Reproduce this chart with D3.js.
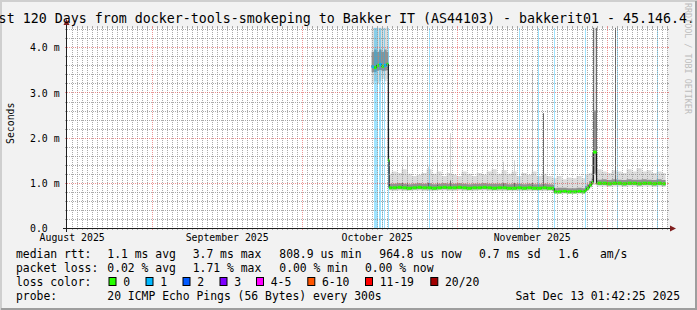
<!DOCTYPE html>
<html><head><meta charset="utf-8">
<script src="https://cdn.jsdelivr.net/npm/d3@7"></script>
<style>
html,body{margin:0;padding:0;background:#f2f2f2;}
svg{display:block;}
text{font-family:"DejaVu Sans Mono",monospace;fill:#000;}
</style></head><body>
<svg id="c" width="697" height="310"></svg>
<script>
// ---------------- data ----------------
const titleText = "Last 120 Days from docker-tools-smokeping to Bakker IT (AS44103) - bakkerit01 - 45.146.4.";
const endStamp = "2025-12-13T01:42:25";
const rangeDays = 120;
const yMaxMs = 4.427;
const yTickValues = [0, 1, 2, 3, 4];
const yTickLabels = ["0.0", "1.0 m", "2.0 m", "3.0 m", "4.0 m"];
const monthLabels = ["August 2025", "September 2025", "October 2025", "November 2025"];

const times = ["2025-10-15T00:00","2025-10-15T12:00","2025-10-16T00:00","2025-10-16T12:00","2025-10-17T00:00","2025-10-17T12:00","2025-10-18T00:00","2025-10-18T08:00","2025-10-18T12:00",
"2025-10-19T00:00","2025-10-20T00:00","2025-10-21T00:00","2025-10-22T00:00","2025-10-23T00:00","2025-10-24T00:00","2025-10-25T00:00","2025-10-26T00:00","2025-10-27T00:00","2025-10-28T00:00","2025-10-29T00:00","2025-10-30T00:00","2025-10-31T00:00",
"2025-11-01T00:00","2025-11-02T00:00","2025-11-03T00:00","2025-11-04T00:00","2025-11-05T00:00","2025-11-06T00:00","2025-11-07T00:00","2025-11-08T00:00","2025-11-09T00:00","2025-11-10T00:00","2025-11-11T00:00","2025-11-12T00:00","2025-11-13T00:00","2025-11-14T00:00","2025-11-15T00:00","2025-11-16T00:00","2025-11-17T00:00","2025-11-18T00:00","2025-11-19T00:00","2025-11-20T00:00",
"2025-11-20T12:00","2025-11-21T00:00","2025-11-22T00:00","2025-11-23T00:00","2025-11-24T00:00","2025-11-25T00:00","2025-11-26T00:00","2025-11-26T16:00","2025-11-27T00:00","2025-11-27T12:00","2025-11-28T00:00","2025-11-28T07:00",
"2025-11-29T00:00","2025-11-30T00:00","2025-12-01T00:00","2025-12-02T00:00","2025-12-03T00:00","2025-12-04T00:00","2025-12-05T00:00","2025-12-06T00:00","2025-12-07T00:00","2025-12-08T00:00","2025-12-09T00:00","2025-12-10T00:00","2025-12-11T00:00","2025-12-12T00:00"];
const dataEnd = "2025-12-12T19:00";
// median rtt in ms
const medianMs = [3.57,3.55,3.60,3.62,3.58,3.60,3.63,1.50,0.89,
0.89,0.90,0.89,0.88,0.89,0.90,0.89,0.89,0.88,0.89,0.90,0.89,0.89,
0.90,0.89,0.88,0.89,0.89,0.90,0.89,0.88,0.89,0.89,0.88,0.88,0.89,0.88,0.89,0.88,0.88,0.89,0.88,0.88,
0.80,0.80,0.81,0.80,0.80,0.81,0.80,0.84,0.88,0.95,1.01,1.68,
0.99,0.99,0.98,0.99,0.99,0.98,0.99,0.99,0.98,0.99,0.99,0.98,0.99,0.98];
// lost pings (out of 20) per bin
const lossCount = [1,0,0,1,0,1,0,0,0,
0,0,0,0,0,0,0,0,0,0,0,0,0,
0,0,0,0,0,0,0,0,0,0,0,0,0,0,0,0,0,0,0,0,
0,0,0,0,0,0,0,0,0,0,0,0,
0,0,0,0,0,0,0,0,0,0,0,0,0,0];
const smokeMin = [3.20,3.25,3.20,3.25,3.30,3.25,3.30,0.90,0.83,
0.82,0.83,0.82,0.82,0.83,0.83,0.82,0.82,0.82,0.83,0.83,0.82,0.82,
0.83,0.82,0.82,0.82,0.83,0.83,0.82,0.82,0.82,0.82,0.82,0.82,0.82,0.82,0.82,0.82,0.82,0.82,0.82,0.82,
0.75,0.75,0.76,0.75,0.75,0.76,0.75,0.78,0.82,0.88,0.94,0.95,
0.92,0.92,0.91,0.92,0.92,0.91,0.92,0.92,0.91,0.92,0.92,0.91,0.92,0.91];
const smokeQ1 = [3.45,3.45,3.48,3.50,3.47,3.48,3.50,1.20,0.86,
0.86,0.86,0.86,0.85,0.86,0.86,0.86,0.86,0.85,0.86,0.86,0.86,0.86,
0.86,0.86,0.85,0.86,0.86,0.86,0.86,0.85,0.86,0.86,0.85,0.85,0.86,0.85,0.86,0.85,0.85,0.86,0.85,0.85,
0.78,0.78,0.79,0.78,0.78,0.79,0.78,0.81,0.85,0.92,0.97,1.20,
0.95,0.95,0.94,0.95,0.95,0.94,0.95,0.95,0.94,0.95,0.95,0.94,0.95,0.94];
const smokeQ3 = [3.90,3.95,3.90,3.95,3.90,3.95,3.90,2.20,0.98,
0.98,0.99,0.98,0.97,0.98,0.99,0.98,0.99,0.97,0.98,0.99,0.98,0.98,
0.99,0.98,0.97,0.98,0.98,0.99,0.98,0.98,0.98,0.99,0.97,0.98,0.98,0.97,0.98,0.97,0.97,0.98,0.97,0.96,
0.88,0.89,0.89,0.88,0.88,0.89,0.88,0.93,0.97,1.04,1.10,2.60,
1.07,1.08,1.06,1.08,1.07,1.06,1.08,1.07,1.07,1.08,1.07,1.06,1.08,1.06];
const smokeMax = [4.43,4.43,4.43,4.43,4.43,4.43,4.43,3.00,1.20,
1.25,1.22,1.30,1.20,1.15,1.18,1.22,1.30,1.20,1.25,1.15,1.22,1.18,
1.15,1.25,1.20,1.15,1.22,1.18,1.25,1.30,1.20,1.28,1.20,1.25,1.15,1.22,1.18,1.25,1.15,1.20,1.15,1.12,
1.10,1.15,1.08,1.12,1.10,1.15,1.10,1.18,1.20,1.22,1.25,4.43,
1.30,1.25,1.22,1.28,1.25,1.22,1.30,1.25,1.32,1.25,1.28,1.22,1.25,1.22];
// single thin spikes in the smoke
const spikeTimes = ["2025-10-21T00:00","2025-10-22T02:00","2025-10-26T05:00","2025-10-28T00:00","2025-10-30T16:00","2025-11-10T06:30","2025-11-12T13:30","2025-11-16T00:15","2025-11-18T08:00","2025-11-28T06:00","2025-11-28T20:00","2025-12-02T16:00"];
const spikeMax = [1.36,1.58,1.36,1.47,2.10,1.47,1.50,3.50,2.54,4.43,4.43,4.43];
const spikeQ3  = [1.00,1.00,1.00,1.00,1.05,1.00,1.00,1.00,2.54,4.43,4.43,4.43];
// bins with 1/20 loss
const lossOneTimes = ["2025-10-15T12:45","2025-10-15T17:30","2025-10-15T22:20","2025-10-16T03:10","2025-10-16T09:50","2025-10-16T17:30","2025-10-17T03:10","2025-10-17T11:20","2025-10-18T05:00",
"2025-10-26T10:00","2025-11-13T11:00","2025-11-17T05:00","2025-11-20T12:40","2025-11-26T16:00","2025-12-03T03:10","2025-12-11T03:10"];

const lossKeys = ["0","1","2","3","4-5","6-10","11-19","20/20"];
const lossColors = ["#26ff00","#00b8ff","#0059ff","#7e00ff","#ff00ff","#ff5500","#ff0000","#a10000"];

const row1 = ["median rtt:","1.1 ms avg","3.7 ms max","808.9 us min","964.8 us now","0.7 ms sd","1.6","am/s"];
const row2 = ["packet loss:","0.02 % avg","1.71 % max","0.00 % min","0.00 % now"];
const row3Label = "loss color:";
const row4 = ["probe:","20 ICMP Echo Pings (56 Bytes) every 300s","Sat Dec 13 01:42:25 2025"];
const yAxisTitle = "Seconds";
const watermark = "RRDTOOL / TOBI OETIKER";

// ---------------- drawing ----------------
const W = 697, H = 310;
const X0 = 67, X1 = 667, YT = 28, YB = 228;
const svg = d3.select("#c");
const parse = d3.timeParse("%Y-%m-%dT%H:%M");
const endTime = d3.timeParse("%Y-%m-%dT%H:%M:%S")(endStamp);
const startTime = d3.timeDay.offset(endTime, -rangeDays);
const x = d3.scaleTime().domain([startTime, endTime]).range([X0, X1]);
const y = d3.scaleLinear().domain([0, yMaxMs]).range([YB, YT]);

// background & frame
svg.append("rect").attr("width", W).attr("height", H).attr("fill", "#f2f2f2");
svg.append("rect").attr("x",0).attr("y",0).attr("width",W).attr("height",2).attr("fill","#cfcfcf");
svg.append("rect").attr("x",0).attr("y",0).attr("width",2).attr("height",H).attr("fill","#cfcfcf");
svg.append("rect").attr("x",W-2).attr("y",1).attr("width",2).attr("height",H-1).attr("fill","#9e9e9e");
svg.append("rect").attr("x",1).attr("y",H-2).attr("width",W-1).attr("height",2).attr("fill","#9e9e9e");
svg.append("rect").attr("x", X0).attr("y", YT).attr("width", X1 - X0).attr("height", YB - YT).attr("fill", "#fff");

const T = times.map(parse);
const tEnd = parse(dataEnd);
const pts = T.map((t, i) => ({t, t2: i < T.length - 1 ? T[i+1] : tEnd, med: medianMs[i], loss: lossCount[i],
  mn: smokeMin[i], q1: smokeQ1[i], q3: smokeQ3[i], mx: smokeMax[i]}));
const stepPts = pts.concat([{...pts[pts.length-1], t: tEnd}]);

const gData = svg.append("g");
gData.append("path").datum(stepPts)
  .attr("d", d3.area().curve(d3.curveStepAfter).x(d => x(d.t)).y0(d => y(d.mn)).y1(d => y(d.mx)))
  .attr("fill", "#dcdcdc");
gData.append("path").datum(stepPts)
  .attr("d", d3.area().curve(d3.curveStepAfter).x(d => x(d.t)).y0(d => y(d.q1)).y1(d => y(d.q3)))
  .attr("fill", "#929292");

// spikes
const bis = d3.bisector(d => d.t).right;
const medAt = t => pts[Math.max(0, bis(pts, t) - 1)].med;
spikeTimes.forEach((s, i) => {
  const t = parse(s), m = medAt(t);
  gData.append("rect").attr("x", Math.round(x(t))).attr("width", 1)
    .attr("y", y(spikeMax[i])).attr("height", y(m) - y(spikeMax[i])).attr("fill", "#d2d2d2");
  if (spikeQ3[i] > m + 0.1) {
    gData.append("rect").attr("x", Math.round(x(t))).attr("width", 1)
      .attr("y", y(spikeQ3[i])).attr("height", y(m) - y(spikeQ3[i])).attr("fill", "#6a6a6a");
  }
});

// loss background
lossOneTimes.forEach(s => {
  const t = parse(s);
  gData.append("rect").attr("x", Math.round(x(t))).attr("width", 1).attr("y", YT).attr("height", YB - YT)
    .attr("fill", lossColors[1]).attr("fill-opacity", 0.38);
});

// median line
gData.append("path").datum(stepPts)
  .attr("d", d3.line().curve(d3.curveStepAfter).x(d => x(d.t)).y(d => y(d.med)))
  .attr("fill", "none").attr("stroke", "#000").attr("stroke-width", 1);
pts.forEach(d => {
  gData.append("rect").attr("x", x(d.t)).attr("width", Math.max(1, x(d.t2) - x(d.t)))
    .attr("y", y(d.med) - 1.5).attr("height", 3).attr("fill", lossColors[d.loss]);
});

// grid
const gGrid = svg.append("g").attr("shape-rendering", "crispEdges");
const minorCol = "rgba(143,143,143,0.75)", majorCol = "rgba(222,79,79,0.6)";
const minorY = d3.range(1, 23).map(k => k / 5).filter(v => Math.abs(v - Math.round(v)) > 1e-6 && v < yMaxMs);
minorY.forEach(v => {
  const yy = Math.round(y(v)) + 0.5;
  gGrid.append("line").attr("x1", X0).attr("x2", X1).attr("y1", yy).attr("y2", yy).attr("stroke", minorCol).attr("stroke-dasharray", "1,1");
  gGrid.append("line").attr("x1", X0-2).attr("x2", X0).attr("y1", yy).attr("y2", yy).attr("stroke", minorCol);
  gGrid.append("line").attr("x1", X1).attr("x2", X1+2).attr("y1", yy).attr("y2", yy).attr("stroke", minorCol);
});
const days = d3.timeDay.range(startTime, endTime);
const months = d3.timeMonth.range(startTime, endTime);
days.filter(d => d.getDate() !== 1).forEach(d => {
  const xx = Math.round(x(d)) + 0.5;
  gGrid.append("line").attr("x1", xx).attr("x2", xx).attr("y1", YT).attr("y2", YB).attr("stroke", minorCol).attr("stroke-dasharray", "1,1");
  gGrid.append("line").attr("x1", xx).attr("x2", xx).attr("y1", YT-2).attr("y2", YT).attr("stroke", minorCol);
  gGrid.append("line").attr("x1", xx).attr("x2", xx).attr("y1", YB).attr("y2", YB+2).attr("stroke", minorCol);
});
months.forEach(d => {
  const xx = Math.round(x(d)) + 0.5;
  gGrid.append("line").attr("x1", xx).attr("x2", xx).attr("y1", YT).attr("y2", YB).attr("stroke", majorCol).attr("stroke-dasharray", "1,1");
  gGrid.append("line").attr("x1", xx).attr("x2", xx).attr("y1", YT-2).attr("y2", YT).attr("stroke", majorCol);
  gGrid.append("line").attr("x1", xx).attr("x2", xx).attr("y1", YB).attr("y2", YB+2).attr("stroke", majorCol);
});
yTickValues.filter(v => v > 0).forEach(v => {
  const yy = Math.round(y(v)) + 0.5;
  gGrid.append("line").attr("x1", X0).attr("x2", X1).attr("y1", yy).attr("y2", yy).attr("stroke", majorCol).attr("stroke-dasharray", "1,1");
  gGrid.append("line").attr("x1", X0-2).attr("x2", X0).attr("y1", yy).attr("y2", yy).attr("stroke", majorCol);
  gGrid.append("line").attr("x1", X1).attr("x2", X1+2).attr("y1", yy).attr("y2", yy).attr("stroke", majorCol);
});

// axes lines + arrows
const axisCol = "#1f1f1f", arrowCol = "#801f1f";
svg.append("line").attr("x1", X0 - 4).attr("x2", X1 + 4).attr("y1", YB + 0.5).attr("y2", YB + 0.5).attr("stroke", axisCol).attr("shape-rendering","crispEdges");
svg.append("line").attr("x1", X0 - 0.5).attr("x2", X0 - 0.5).attr("y1", YB + 4).attr("y2", YT - 4).attr("stroke", axisCol).attr("shape-rendering","crispEdges");
svg.append("path").attr("d", `M${X1+3},${YB-2.5}L${X1+3},${YB+3.5}L${X1+9},${YB+0.5}Z`).attr("fill", arrowCol);
svg.append("path").attr("d", `M${X0-3.5},${YT-3}L${X0+2.5},${YT-3}L${X0-0.5},${YT-9}Z`).attr("fill", arrowCol);

// axis labels via d3 axes
const labelDates = d3.timeMonth.range(d3.timeMonth.floor(startTime), endTime).map(m => d3.timeDay.offset(m, 15)).filter(d => d >= startTime && d <= endTime);
const gx = svg.append("g").attr("transform", `translate(0,${YB})`)
  .call(d3.axisBottom(x).tickValues(labelDates).tickFormat((d, i) => monthLabels[i]).tickSize(0).tickPadding(0));
gx.select(".domain").remove();
gx.selectAll("text").attr("y", 13).attr("dy", null).attr("font-size", "9.85px").attr("font-family", "DejaVu Sans Mono").attr("fill", "#000");

const gy = svg.append("g").attr("transform", `translate(${X0},0)`)
  .call(d3.axisLeft(y).tickValues(yTickValues).tickFormat((d, i) => yTickLabels[i]).tickSize(0).tickPadding(0));
gy.select(".domain").remove();
gy.selectAll("text").attr("text-anchor", "start").attr("x", 30 - X0).attr("dy", null).attr("y", 3.6)
  .attr("font-size", "9.85px").attr("font-family", "DejaVu Sans Mono").attr("fill", "#000");

svg.append("text").attr("transform", "translate(14,123.3) rotate(-90)").attr("text-anchor", "middle")
  .attr("font-size", "9.85px").text(yAxisTitle);

// title
svg.append("text").attr("x", -17.4).attr("y", 23.2).attr("font-size", "13.3px").attr("xml:space", "preserve").text(titleText);

// watermark
svg.append("text").attr("transform", "translate(685,3) rotate(90)").attr("font-size", "8.4px")
  .style("fill", "#bdbdbd").text(watermark);

// legend
const lf = "11.4px";
const addT = (s, xx, yy) => svg.append("text").attr("x", xx).attr("y", yy).attr("font-size", lf).attr("xml:space", "preserve").text(s);
const r1x = [16, 107.3, 192.7, 279.3, 379.3, 479, 558.3, 600];
row1.forEach((s, i) => addT(s, r1x[i], 257.8));
const r2x = [16, 107.3, 192.7, 279.3, 365];
row2.forEach((s, i) => addT(s, r2x[i], 271.8));
addT(row3Label, 16, 285.8);
const boxX = [108.5, 145.5, 182.5, 219.5, 256, 307.3, 365, 430.3];
lossKeys.forEach((k, i) => {
  svg.append("rect").attr("x", boxX[i] + 0.5).attr("y", 277.5).attr("width", 7).attr("height", 8)
    .attr("fill", lossColors[i]).attr("stroke", "#000").attr("stroke-width", 1);
  addT(k, boxX[i] + 14.7, 285.8);
});
addT(row4[0], 16, 299.8);
addT(row4[1], 107.3, 299.8);
svg.append("text").attr("x", 680).attr("y", 299.8).attr("font-size", lf).attr("text-anchor", "end").text(row4[2]);
</script>
</body></html>
